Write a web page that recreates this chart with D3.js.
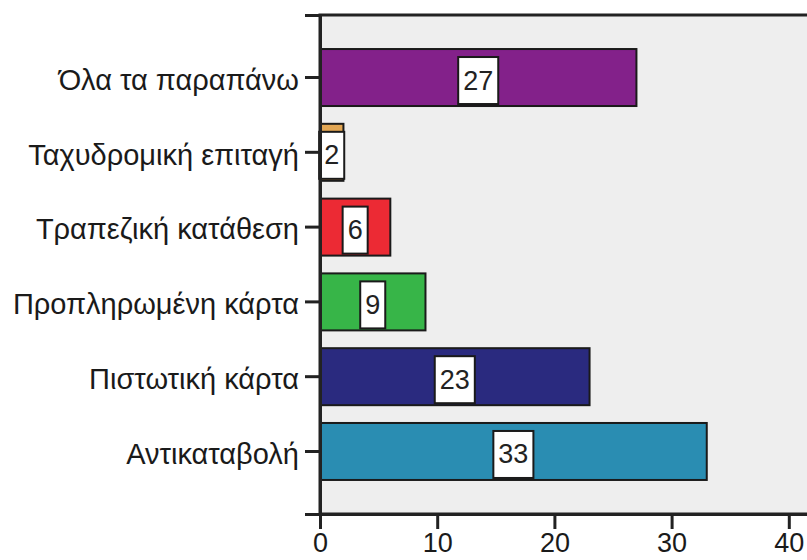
<!DOCTYPE html>
<html>
<head>
<meta charset="utf-8">
<script src="https://cdn.jsdelivr.net/npm/d3@7"></script>
<style>
  html, body { margin: 0; padding: 0; background: #ffffff; }
  svg { display: block; }
  text { font-family: "Liberation Sans", Arial, sans-serif; }
</style>
</head>
<body>
<svg id="chart" width="807" height="560"></svg>
<script>
// Payment methods (top to bottom) and their counts
const categories = [
  "Όλα τα παραπάνω",
  "Ταχυδρομική επιταγή",
  "Τραπεζική κατάθεση",
  "Προπληρωμένη κάρτα",
  "Πιστωτική κάρτα",
  "Αντικαταβολή"
];
const counts = [27, 2, 6, 9, 23, 33];
const barColors = ["#83218a", "#e2a653", "#ec2a34", "#37b548", "#2a2a7f", "#2a8db2"];
const xTicks = [0, 10, 20, 30, 40];

const svg = d3.select("#chart");
const W = 807, H = 560;
const margin = { top: 15, left: 320, bottom: 46 };
const plotRight = 860; // the frame runs past the right edge of the window

const x = d3.scaleLinear().domain([0, 43]).range([margin.left, margin.left + 43 * 11.72]);
const y = d3.scaleBand()
  .domain(categories)
  .range([margin.top, H - margin.bottom])
  .paddingInner(0.238)
  .paddingOuter(0.455);

// plot background and frame
svg.append("rect")
  .attr("x", margin.left).attr("y", margin.top)
  .attr("width", plotRight - margin.left).attr("height", H - margin.bottom - margin.top)
  .attr("fill", "#eeeeee")
  .attr("stroke", "#222").attr("stroke-width", 3);

// bars
const bars = svg.append("g");
bars.selectAll("rect")
  .data(categories)
  .join("rect")
  .attr("x", x(0))
  .attr("y", d => y(d))
  .attr("width", (d, i) => x(counts[i]) - x(0))
  .attr("height", y.bandwidth())
  .attr("fill", (d, i) => barColors[i])
  .attr("stroke", "#1a1a1a")
  .attr("stroke-width", 2);

// value labels in white boxes at bar centres
const labels = svg.append("g");
categories.forEach((c, i) => {
  const cx = (x(0) + x(counts[i])) / 2;
  const cy = y(c) + y.bandwidth() / 2 + 3;
  const g = labels.append("g");
  const t = g.append("text")
    .attr("x", cx).attr("y", cy)
    .attr("text-anchor", "middle")
    .attr("dominant-baseline", "central")
    .attr("font-size", 27)
    .attr("fill", "#222")
    .text(counts[i]);
  const bb = t.node().getBBox();
  const bw = bb.width + 10, bh = 47;
  g.insert("rect", "text")
    .attr("x", cx - bw / 2).attr("y", cy - bh / 2)
    .attr("width", bw).attr("height", bh)
    .attr("fill", "#ffffff")
    .attr("stroke", "#1a1a1a").attr("stroke-width", 2);
});

// y axis
const yAxis = svg.append("g")
  .attr("transform", `translate(${margin.left},0)`)
  .call(d3.axisLeft(y).tickSize(15).tickPadding(6));
yAxis.select(".domain").attr("stroke", "#222").attr("stroke-width", 3);
yAxis.selectAll(".tick line").attr("stroke", "#222").attr("stroke-width", 3);
yAxis.selectAll(".tick text")
  .attr("font-size", 29)
  .attr("fill", "#1a1a1a")
  .attr("dy", "0.42em")
  .style("font-family", "'Liberation Sans', Arial, sans-serif");

// x axis
const xAxis = svg.append("g")
  .attr("transform", `translate(0,${H - margin.bottom})`)
  .call(d3.axisBottom(x).tickValues(xTicks).tickSize(15).tickPadding(4));
xAxis.select(".domain").attr("stroke", "#222").attr("stroke-width", 3);
xAxis.selectAll(".tick line").attr("stroke", "#222").attr("stroke-width", 3);
xAxis.selectAll(".tick text")
  .attr("font-size", 27)
  .attr("fill", "#1a1a1a")
  .style("font-family", "'Liberation Sans', Arial, sans-serif");
</script>
</body>
</html>
